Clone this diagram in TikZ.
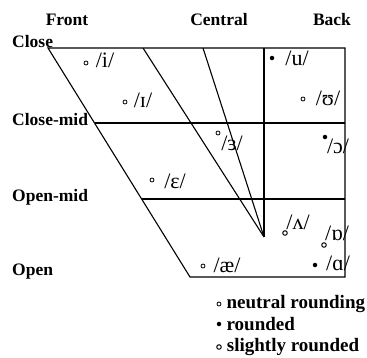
\documentclass[tikz,border=0pt]{standalone}
\usepackage{fontspec}
\setmainfont{Liberation Serif}
\usetikzlibrary{positioning}
\tikzset{
  chartline/.style={line width=1.1pt},
  rowlabel/.style={font=\bfseries\fontsize{17.5}{20}\selectfont,anchor=west,inner sep=0pt},
  collabel/.style={font=\bfseries\fontsize{17.5}{20}\selectfont,inner sep=0pt},
  vowel/.style={font=\fontsize{22}{24}\selectfont,inner sep=0pt},
  neutralmark/.style={circle,draw,line width=0.8pt,inner sep=0pt,minimum size=4pt},
  roundmark/.style={circle,fill,inner sep=0pt,minimum size=4.5pt},
  slightmark/.style={circle,draw,line width=1pt,inner sep=0pt,minimum size=4.5pt},
  keytext/.style={font=\bfseries\fontsize{19}{20}\selectfont,inner sep=0pt}
}

\begin{document}
\begin{tikzpicture}[x=1pt,y=-1pt]
\useasboundingbox (0,0) rectangle (367,357);
% chart corners
\coordinate (tl) at (48,48);
\coordinate (tr) at (345,48);
\coordinate (br) at (345,277);
\coordinate (bl) at (190,277);
\coordinate (cml) at (94.5,123);
\coordinate (cmr) at (345,123);
\coordinate (oml) at (141.6,199);
\coordinate (omr) at (345,199);
\coordinate (ta) at (143,48);
\coordinate (tb) at (203,48);
\coordinate (tc) at (264,48);
\coordinate (apex) at (264,237);
% outline and grid
\draw[chartline] (tl) -- (tr) -- (br) -- (bl) -- cycle;
\draw[chartline] (cml) -- (cmr);
\draw[chartline] (oml) -- (omr);
\draw[chartline] (ta) -- (apex);
\draw[chartline] (tb) -- (apex);
\draw[chartline] (tc) -- (apex);
% column and row labels
\node[collabel] (front) at (67,20) {Front};
\node[collabel] (central) at (219,20) {Central};
\node[collabel] (back) at (332,20) {Back};
\node[rowlabel] (close) at (12,42) {Close};
\node[rowlabel] (closemid) at (12,120) {Close-mid};
\node[rowlabel] (openmid) at (12,197) {Open-mid};
\node[rowlabel] (open) at (12,272) {Open};
% vowels
\node[neutralmark] (mi) at (86,63) {};
\node[vowel] (vi) at (105,60) {/i/};
\node[neutralmark] (mI) at (125,102) {};
\node[vowel] (vI) at (143,100) {/ɪ/};
\node[neutralmark] (me3) at (218,133) {};
\node[vowel] (ve3) at (232,143) {/ɜ/};
\node[neutralmark] (meps) at (152,180) {};
\node[vowel] (veps) at (175,181) {/ɛ/};
\node[roundmark] (mu) at (272,58) {};
\node[vowel] (vu) at (297,58) {/u/};
\node[neutralmark] (mups) at (303,99) {};
\node[vowel] (vups) at (328,98) {/ʊ/};
\node[roundmark] (mo) at (325,137) {};
\node[vowel] (vo) at (338,146) {/ɔ/};
\node[slightmark] (mwedge) at (285,233) {};
\node[vowel] (vwedge) at (298,222) {/ʌ/};
\node[slightmark] (mturna) at (324,245) {};
\node[vowel] (vturna) at (337,233) {/ɒ/};
\node[roundmark] (ma) at (315,265) {};
\node[vowel] (va) at (338,263) {/ɑ/};
\node[neutralmark] (mae) at (203,266) {};
\node[vowel] (vae) at (227,265) {/æ/};
% key
\node[neutralmark] (kn) at (219,304) {};
\node[keytext,right=5pt of kn] (kntext) {neutral rounding};
\node[roundmark] (kr) at (219,324) {};
\node[keytext,right=5pt of kr] (krtext) {rounded};
\node[slightmark] (ks) at (219,347) {};
\node[keytext,right=5pt of ks] (kstext) {slightly rounded};
\end{tikzpicture}
\end{document}
